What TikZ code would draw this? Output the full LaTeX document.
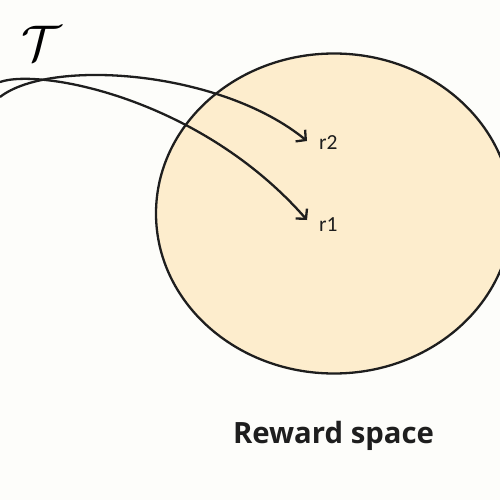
\documentclass[tikz,border=0pt]{standalone}
\usepackage{fontspec}
\setsansfont{Carlito}
\newfontfamily\labfont{Open Sans}
\usetikzlibrary{arrows.meta}
\definecolor{bg}{HTML}{FDFDFA}
\definecolor{spacefill}{HTML}{FDEDCD}
\definecolor{ink}{HTML}{1E1E1E}
\tikzset{
  conn/.style={line width=2.3pt, ink, -{Straight Barb[length=7pt,width=15pt,line width=2.3pt]}},
  rlab/.style={font=\sffamily\fontsize{21.5}{21.5}\selectfont, text=ink, anchor=base west, inner sep=0pt},
}
\begin{document}
\begin{tikzpicture}[x=1pt,y=-1pt]
\useasboundingbox (0,0) rectangle (500,500);
\fill[bg] (0,0) rectangle (500,500);
\clip (0,0) rectangle (500,500);
\draw[line width=2.3pt, ink, fill=spacefill] (334,213.5) ellipse [x radius=178, y radius=160];
\node[scale=2.9, inner sep=0pt] (T) at (42,43) {\LARGE$\mathcal{T}$};
\node[rlab] (r2) at (319,149) {r2};
\node[rlab] (r1) at (319,231) {r1};
\node[font=\labfont\bfseries\fontsize{29.3}{29.3}\selectfont, text=ink, anchor=base] (rs) at (333.5,443) {Reward space};
\coordinate (s2) at (0,97);
\coordinate (s1) at (0,82);
\coordinate (t2) at (307,141);
\coordinate (t1) at (307,220);
\draw[conn] (s2) .. controls (50,58) and (220,70) .. (t2);
\draw[conn] (s1) .. controls (40,68) and (200,98) .. (t1);
\end{tikzpicture}
\end{document}
